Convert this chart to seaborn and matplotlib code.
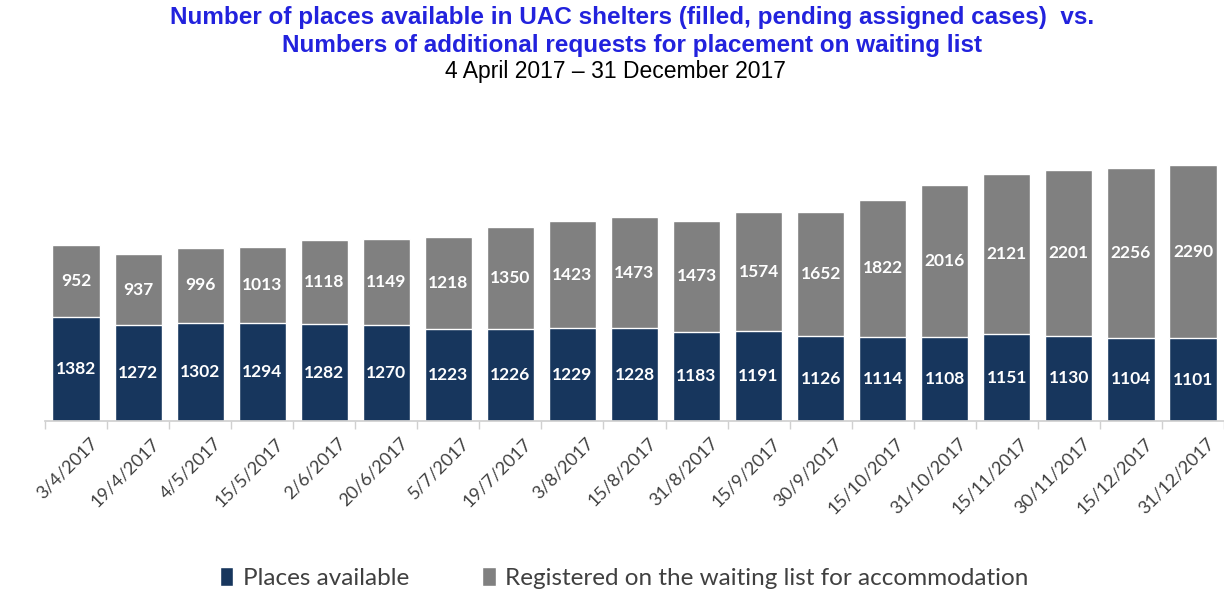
import pandas as pd
import matplotlib.pyplot as plt
import matplotlib.transforms as mtransforms
import seaborn as sns
from matplotlib.patches import Patch

# Chart data
dates = ["3/4/2017", "19/4/2017", "4/5/2017", "15/5/2017", "2/6/2017", "20/6/2017",
         "5/7/2017", "19/7/2017", "3/8/2017", "15/8/2017", "31/8/2017", "15/9/2017",
         "30/9/2017", "15/10/2017", "31/10/2017", "15/11/2017", "30/11/2017",
         "15/12/2017", "31/12/2017"]
places_available = [1382, 1272, 1302, 1294, 1282, 1270, 1223, 1226, 1229, 1228,
                    1183, 1191, 1126, 1114, 1108, 1151, 1130, 1104, 1101]
waiting_list = [952, 937, 996, 1013, 1118, 1149, 1218, 1350, 1423, 1473,
                1473, 1574, 1652, 1822, 2016, 2121, 2201, 2256, 2290]

series_names = ["Places available", "Registered on the waiting list for accommodation"]
navy = "#17365D"
grey = "#808080"

df = pd.DataFrame({"Date": dates, "Places": places_available, "Waiting": waiting_list})
df["Total"] = df["Places"] + df["Waiting"]

sns.set_theme(style="white")
plt.rcParams["font.family"] = ["Lato", "DejaVu Sans"]

fig = plt.figure(figsize=(12.24, 5.94), dpi=100)
ax = fig.add_axes([0.0368, 0.2912, 0.9632, 0.4444])

# stacked bars: total in grey, places drawn over it in navy
sns.barplot(data=df, x="Date", y="Total", color=grey, saturation=1, width=0.76, ax=ax)
sns.barplot(data=df, x="Date", y="Places", color=navy, saturation=1, width=0.76, ax=ax)

for i, row in df.iterrows():
    ax.text(i, row["Places"] / 2, str(row["Places"]), ha="center", va="center",
            color="white", fontsize=12.5, fontweight="bold")
    ax.text(i, row["Places"] + row["Waiting"] / 2, str(row["Waiting"]), ha="center",
            va="center", color="white", fontsize=12.5, fontweight="bold")

ax.set_ylim(0, 3500)
ax.set_xlim(-0.5, len(dates) - 0.5)
ax.set_xlabel("")
ax.set_ylabel("")
ax.set_yticks([])
for side in ["top", "right", "left"]:
    ax.spines[side].set_visible(False)
ax.spines["bottom"].set_color("#d0d0d0")

ax.set_xticks(range(len(dates)))
ax.set_xticklabels(dates, rotation=45, ha="right", rotation_mode="anchor",
                   fontsize=13, color="#404040")
ax.tick_params(axis="x", which="major", length=0, pad=10)
ax.set_xticks([i - 0.5 for i in range(len(dates) + 1)], minor=True)
ax.tick_params(axis="x", which="minor", length=6, color="#d0d0d0", bottom=True)

# nudge rotated labels right so they end under the bar centre like the original
shift = mtransforms.ScaledTranslation(0.13, 0, fig.dpi_scale_trans)
for lbl in ax.get_xticklabels():
    lbl.set_transform(lbl.get_transform() + shift)

fig.text(0.516, 0.970, "Number of places available in UAC shelters (filled, pending assigned cases)  vs.",
         ha="center", va="center", fontsize=17.5, fontweight="bold", color="#2222dd",
         family=["Liberation Sans", "DejaVu Sans"])
fig.text(0.516, 0.923, "Numbers of additional requests for placement on waiting list",
         ha="center", va="center", fontsize=17.5, fontweight="bold", color="#2222dd",
         family=["Liberation Sans", "DejaVu Sans"])
fig.text(0.503, 0.879, "4 April 2017 \u2013 31 December 2017",
         ha="center", va="center", fontsize=16.5, color="black",
         family=["Liberation Sans", "DejaVu Sans"])

handles = [Patch(facecolor=navy), Patch(facecolor=grey)]
fig.legend(handles, series_names, loc="center", bbox_to_anchor=(0.51, 0.027), ncol=2,
           frameon=False, fontsize=17.5, handlelength=0.55, handleheight=0.8,
           handletextpad=0.4, columnspacing=3.0, labelcolor="#404040")

fig.savefig("out.png", dpi=100)
